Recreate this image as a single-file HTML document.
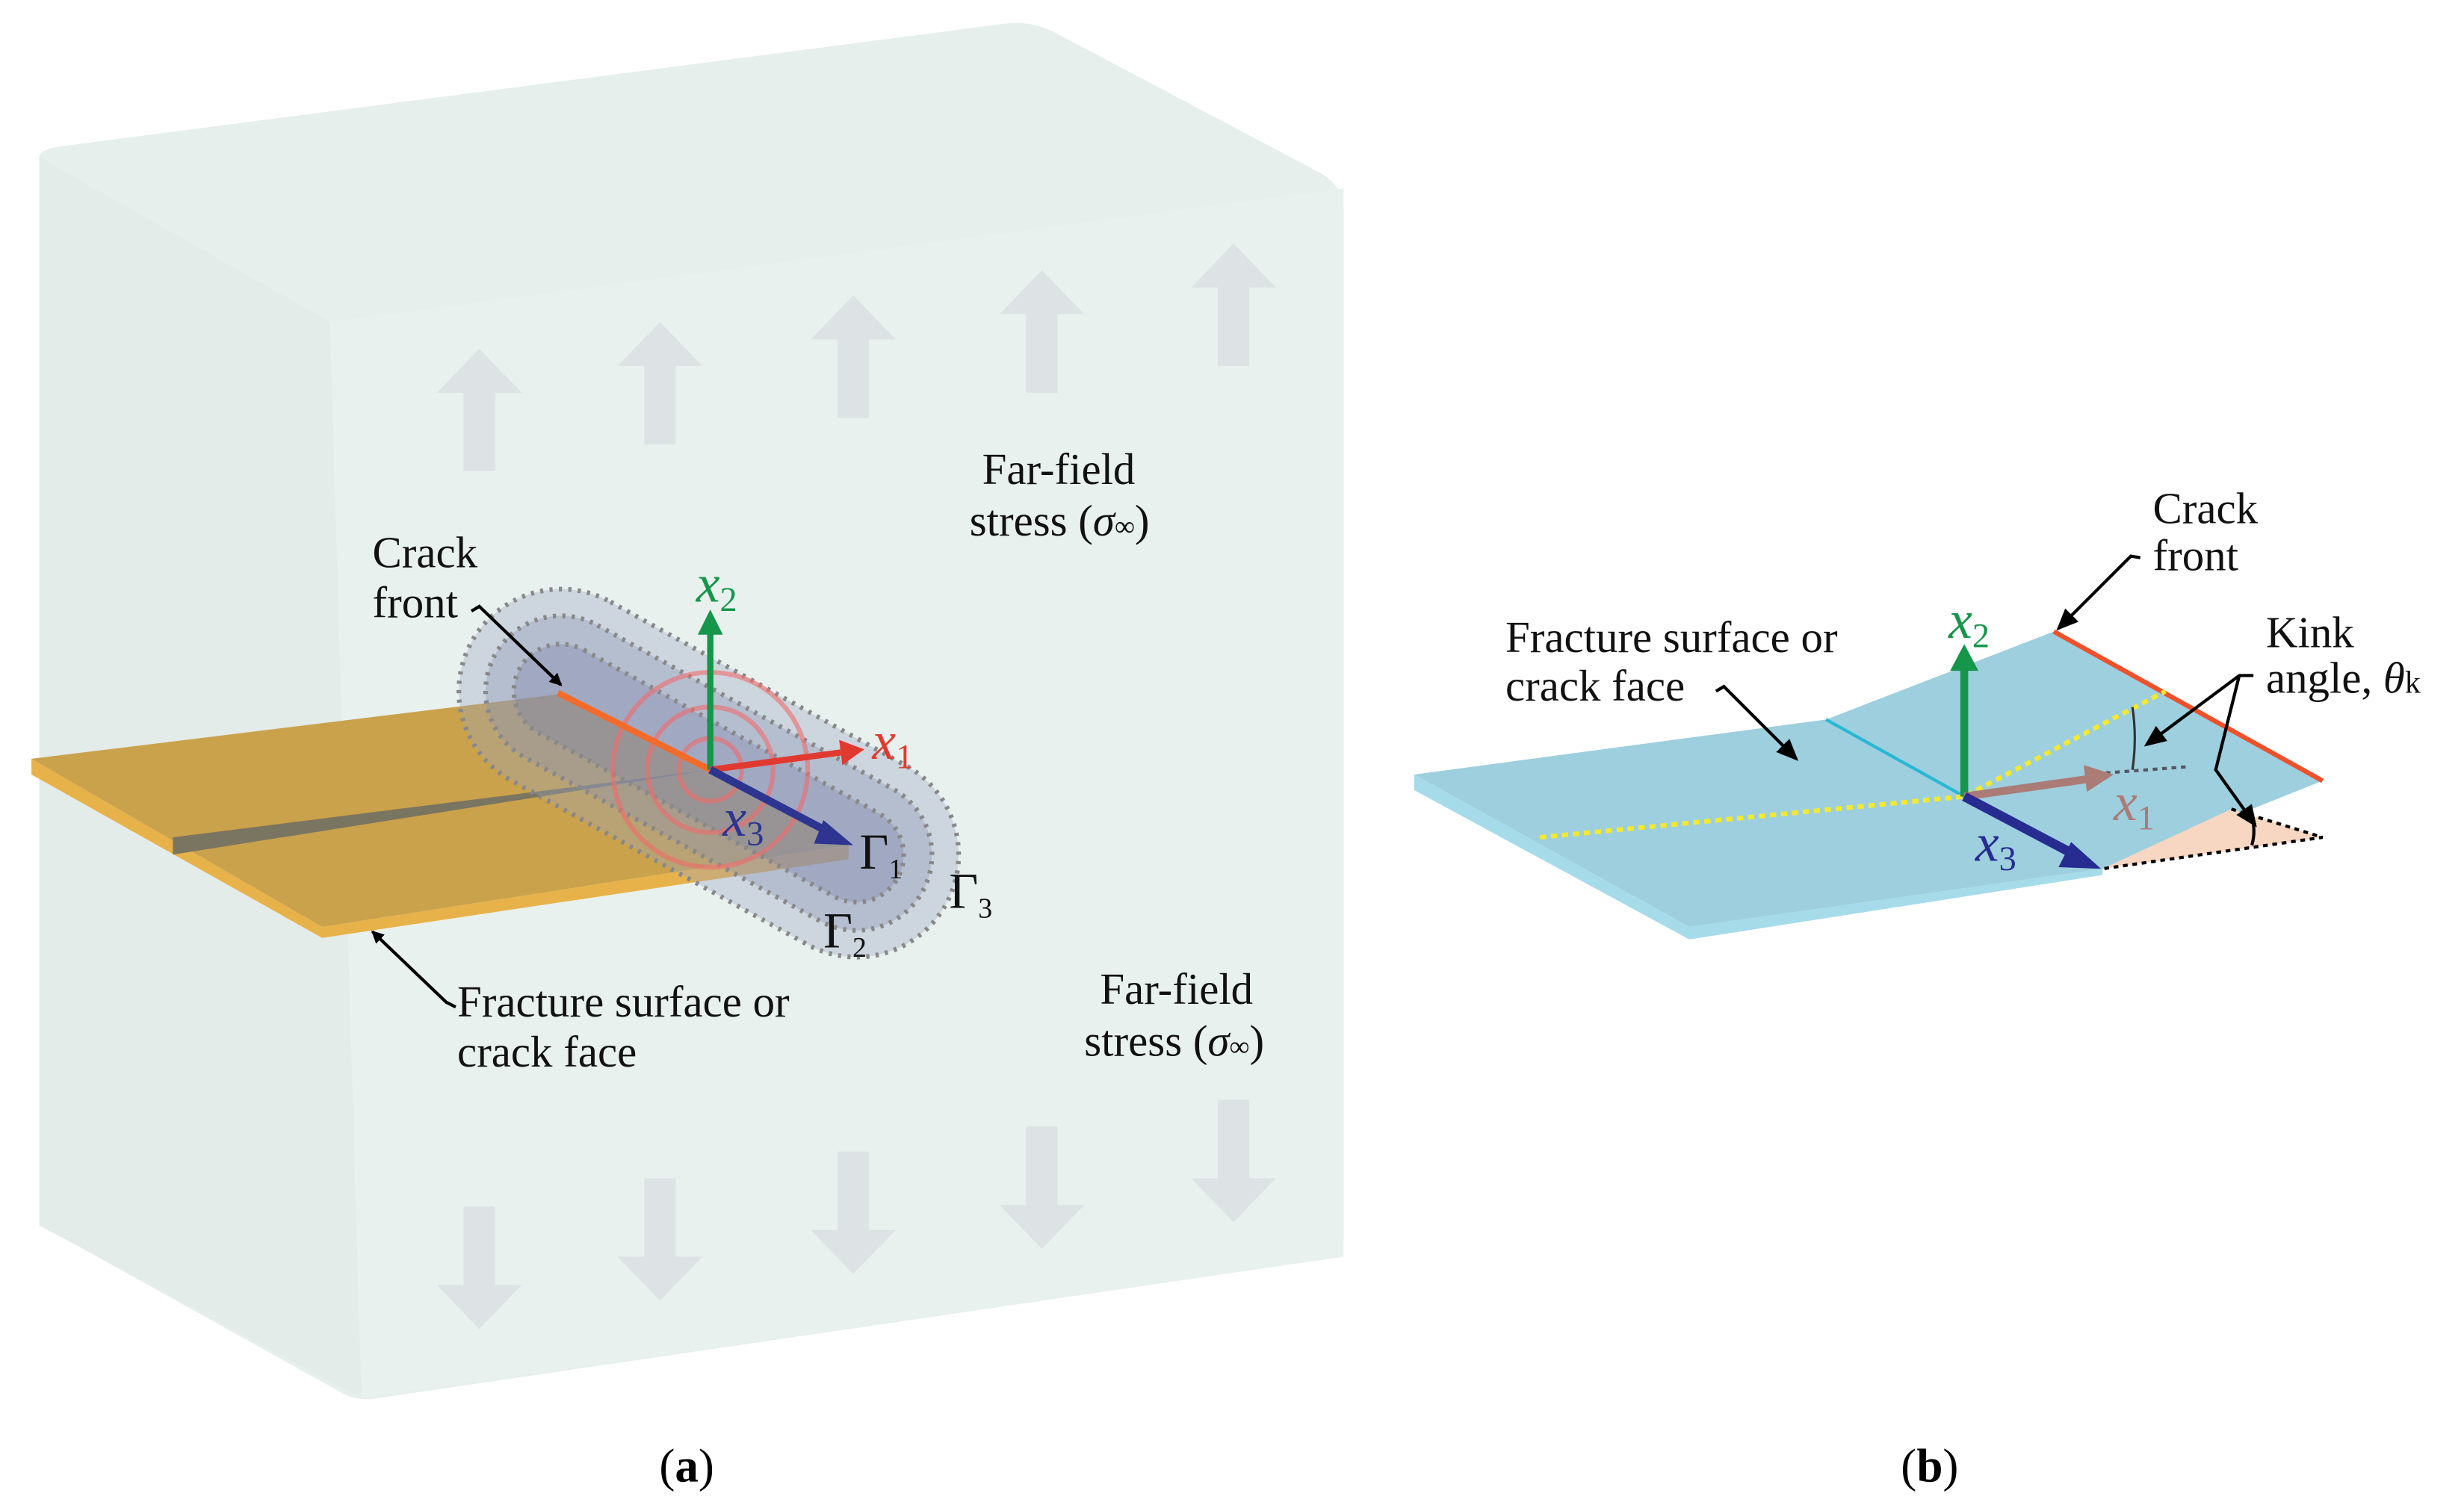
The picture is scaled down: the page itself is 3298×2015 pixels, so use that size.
<!DOCTYPE html>
<html><head><meta charset="utf-8"><style>html,body{margin:0;padding:0;background:#fff}svg{display:block}svg text{font-family:"Liberation Serif","DejaVu Serif",serif}</style></head><body>
<svg width="3298" height="2015" viewBox="0 0 1568 958" preserveAspectRatio="none" xmlns="http://www.w3.org/2000/svg" style="font-family:'Liberation Serif',serif">
<defs>
<marker id="ah" markerWidth="8" markerHeight="8" refX="7" refY="4" orient="auto" markerUnits="userSpaceOnUse"><path d="M0,0 L8,4 L0,8 Z" fill="#000"/></marker>
<marker id="ahb" markerWidth="14" markerHeight="12" refX="12" refY="6" orient="auto" markerUnits="userSpaceOnUse"><path d="M0,0 L14,6 L0,12 Z" fill="#000"/></marker>
<g id="up"><path d="M-10,0 L-10,-50 L-27,-50 L0,-78 L27,-50 L10,-50 L10,0 Z" fill="#dde2e4"/></g>
<g id="dn"><path d="M-10,0 L-10,50 L-27,50 L0,78 L27,50 L10,50 L10,0 Z" fill="#dde2e4"/></g>
</defs>
<path d="M25,100 Q25,95 40,93 L640,15 Q655,13 670,20 L840,110 Q855,118 855,135 L855,790 Q855,800 840,802 L240,890 Q230,892 220,888 L35,785 Q25,780 25,770 Z" fill="#e6efec"/>
<path d="M210,205 L855,120 L855,800 L230,890 Z" fill="#e9f1ee"/>
<path d="M25,100 L210,205 L230,890 L25,780 Z" fill="#e3ece9"/>
<use href="#up" x="305" y="300"/><use href="#up" x="420" y="283"/><use href="#up" x="543" y="266"/><use href="#up" x="663" y="250"/><use href="#up" x="785" y="233"/>
<use href="#dn" x="305" y="768"/><use href="#dn" x="420" y="750"/><use href="#dn" x="543" y="733"/><use href="#dn" x="663" y="717"/><use href="#dn" x="785" y="700"/>
<path d="M20,483 L20,493 L205,597 L540,547 L540,538 L205,590 Z" fill="#e8b24a"/>
<path d="M20,483 L355,442 L540,538 L205,590 Z" fill="#caa24c"/>
<path d="M110,533 L452,490 L110,544 Z" fill="#7a7560"/>
<g transform="translate(357,440) rotate(29)">
<rect x="-65" y="-65" width="345" height="130" rx="65" fill="#9aa3c0" fill-opacity="0.35" stroke="#888" stroke-width="3" stroke-dasharray="2,4"/>
<rect x="-48" y="-48" width="311" height="96" rx="48" fill="#8a93b5" fill-opacity="0.35" stroke="#888" stroke-width="3" stroke-dasharray="2,4"/>
<rect x="-30" y="-30" width="275" height="60" rx="30" fill="#7a83a8" fill-opacity="0.35" stroke="#888" stroke-width="3" stroke-dasharray="2,4"/>
</g>
<g fill="none" stroke="#f06a6a" stroke-opacity="0.6" stroke-width="3">
<circle cx="452" cy="490" r="20"/><circle cx="452" cy="490" r="40"/><circle cx="452" cy="490" r="62"/></g>
<line x1="355" y1="441" x2="452" y2="490" stroke="#f36b2a" stroke-width="4"/>
<line x1="452" y1="490" x2="452" y2="402" stroke="#15964a" stroke-width="4"/><path d="M444,404 L452,388 L460,404 Z" fill="#15964a"/>
<line x1="452" y1="490" x2="535" y2="479" stroke="#e03a30" stroke-width="4"/><path d="M534,471 L550,477 L536,487 Z" fill="#e03a30"/>
<line x1="452" y1="490" x2="528" y2="530" stroke="#2e3590" stroke-width="5"/><path d="M524,522 L543,538 L518,537 Z" fill="#2e3590"/>
<g font-style="italic" font-size="34"><text x="443" y="383" fill="#15964a">x<tspan font-size="22" font-style="normal" dy="6">2</tspan></text>
<text x="555" y="483" fill="#e03a30">x<tspan font-size="22" font-style="normal" dy="6">1</tspan></text>
<text x="460" y="532" fill="#2e3590">x<tspan font-size="22" font-style="normal" dy="6">3</tspan></text></g>
<g font-size="32" fill="#111"><text x="547" y="553">Γ<tspan font-size="18" dy="6">1</tspan></text><text x="524" y="603">Γ<tspan font-size="18" dy="6">2</tspan></text><text x="604" y="578">Γ<tspan font-size="18" dy="6">3</tspan></text></g>
<g font-size="28" fill="#111">
<text x="237" y="361">Crack</text><text x="237" y="393">front</text>
<text x="625" y="308">Far-field</text><text x="617" y="341">stress (<tspan font-style="italic">σ</tspan><tspan font-size="18">∞</tspan>)</text>
<text x="700" y="639">Far-field</text><text x="690" y="672">stress (<tspan font-style="italic">σ</tspan><tspan font-size="18">∞</tspan>)</text>
<text x="291" y="647">Fracture surface or</text><text x="291" y="679">crack face</text>
</g>
<path d="M300,389 L305,386 L357,436" fill="none" stroke="#000" stroke-width="2" marker-end="url(#ah)"/>
<path d="M290,641 L284,638 L237,593" fill="none" stroke="#000" stroke-width="2" marker-end="url(#ah)"/>
<text x="437" y="943" font-size="30" text-anchor="middle">(<tspan font-weight="bold">a</tspan>)</text>
<text x="1228" y="943" font-size="30" text-anchor="middle">(<tspan font-weight="bold">b</tspan>)</text>
<path d="M900,493 L900,503 L1075,598 L1338,557 L1338,553 L1075,590 Z" fill="#a6dcea"/>
<path d="M900,493 L1162,458 L1307,402 L1478,497 L1338,553 L1075,590 Z" fill="#9dcfde"/>
<path d="M1338,553 L1420,515 L1478,533 Z" fill="#f7d6c2"/>
<path d="M1420,515 L1478,533 L1338,553" fill="none" stroke="#000" stroke-width="2" stroke-dasharray="3,3"/>
<line x1="1162" y1="458" x2="1250" y2="507" stroke="#27b8d4" stroke-width="2"/>
<line x1="1307" y1="402" x2="1478" y2="497" stroke="#f0502a" stroke-width="3"/>
<path d="M980,533 L1250,507 L1378,440" fill="none" stroke="#f4e830" stroke-width="3" stroke-dasharray="4,3"/>
<line x1="1340" y1="492" x2="1393" y2="488" stroke="#556" stroke-width="2" stroke-dasharray="3,3"/>
<path d="M1357,450 Q1360,470 1357,490" fill="none" stroke="#333" stroke-width="1.5"/>
<path d="M1432,516 Q1436,528 1433,538" fill="none" stroke="#000" stroke-width="2"/>
<line x1="1250" y1="507" x2="1250" y2="425" stroke="#15964a" stroke-width="5"/><path d="M1241,427 L1250,410 L1259,427 Z" fill="#15964a"/>
<line x1="1250" y1="507" x2="1328" y2="496" stroke="#ab7b76" stroke-width="5"/><path d="M1326,487 L1345,493 L1328,504 Z" fill="#ab7b76"/>
<line x1="1250" y1="507" x2="1322" y2="545" stroke="#262c90" stroke-width="6"/><path d="M1318,536 L1337,553 L1310,552 Z" fill="#262c90"/>
<g font-style="italic" font-size="34"><text x="1240" y="406" fill="#15964a">x<tspan font-size="22" font-style="normal" dy="6">2</tspan></text>
<text x="1345" y="522" fill="#ab7b76">x<tspan font-size="22" font-style="normal" dy="6">1</tspan></text>
<text x="1257" y="548" fill="#262c90">x<tspan font-size="22" font-style="normal" dy="6">3</tspan></text></g>
<g font-size="28" fill="#111">
<text x="958" y="415">Fracture surface or</text><text x="958" y="446">crack face</text>
<text x="1370" y="333">Crack</text><text x="1370" y="363">front</text>
<text x="1442" y="412">Kink</text><text x="1442" y="441">angle, <tspan font-style="italic">θ</tspan><tspan font-size="20">k</tspan></text>
</g>
<path d="M1092,440 L1097,437 L1143,483" fill="none" stroke="#000" stroke-width="2" marker-end="url(#ahb)"/>
<path d="M1362,355 L1356,354 L1310,400" fill="none" stroke="#000" stroke-width="2" marker-end="url(#ahb)"/>
<path d="M1434,430 L1425,430 L1366,474" fill="none" stroke="#000" stroke-width="2" marker-end="url(#ahb)"/>
<path d="M1425,430 L1410,490 L1435,525" fill="none" stroke="#000" stroke-width="2" marker-end="url(#ahb)"/>
</svg>
</body></html>
